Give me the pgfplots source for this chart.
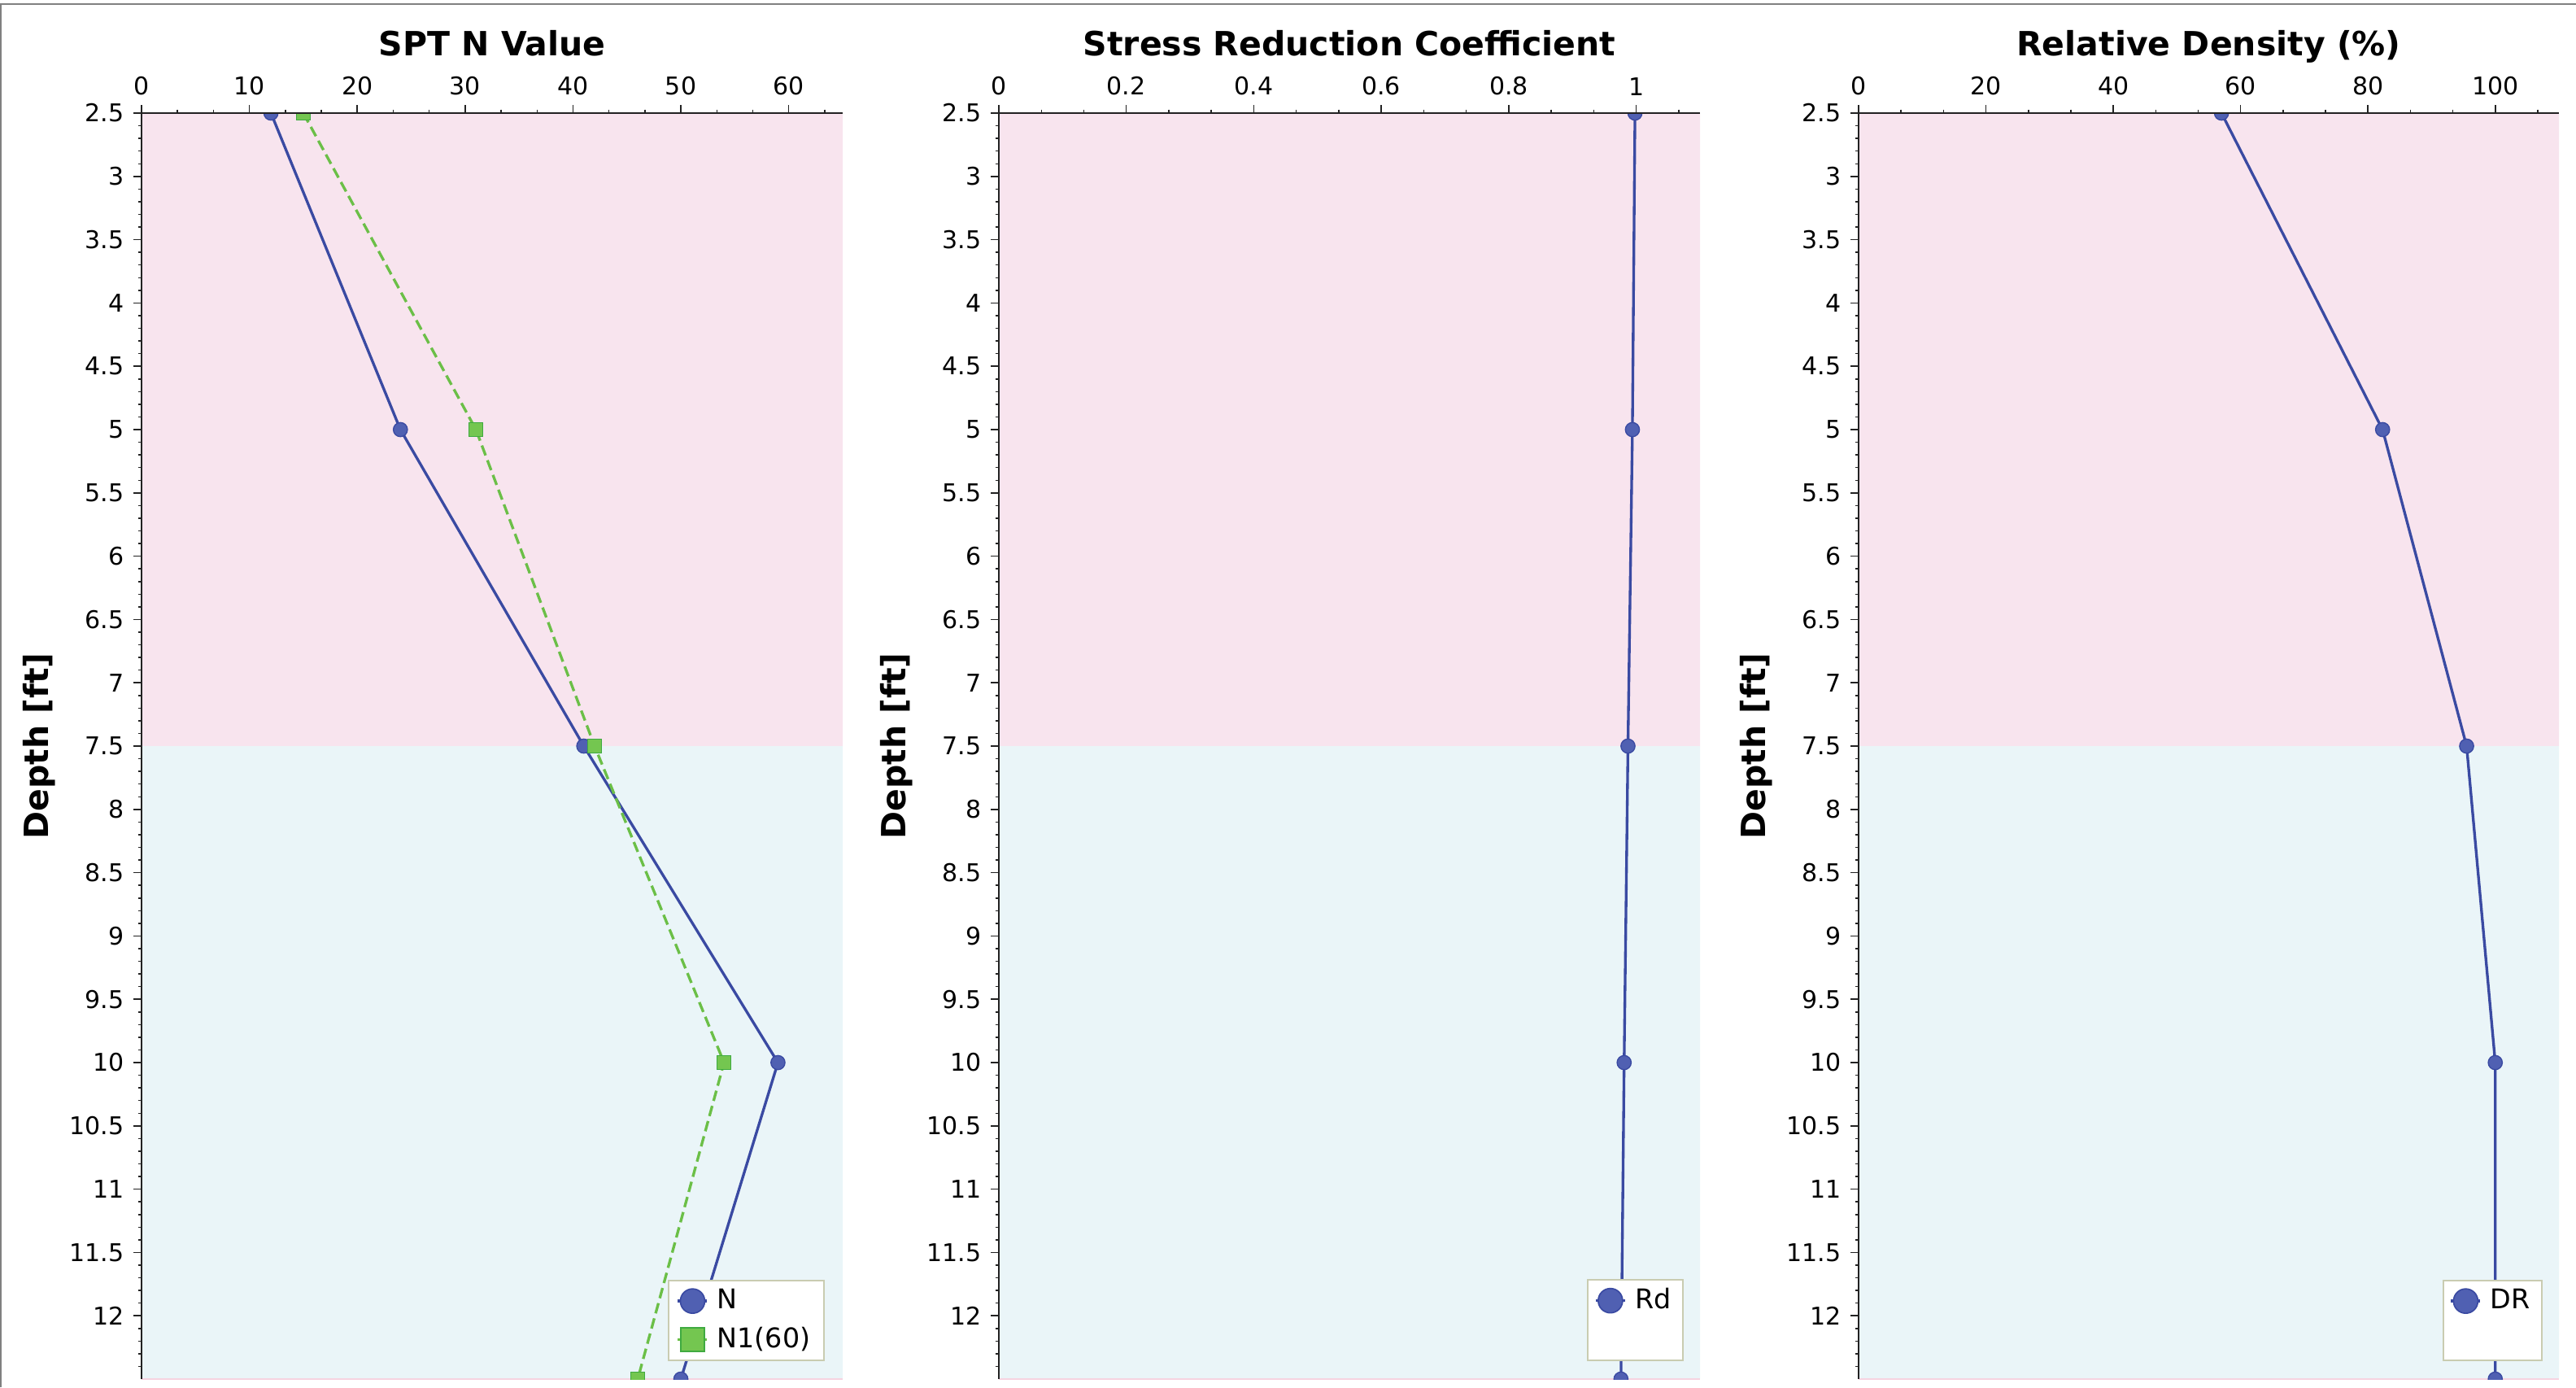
\documentclass[border=0pt]{standalone}
\usepackage{fontspec}
\setmainfont{DejaVu Sans}
\usepackage{pgfplots}
\pgfplotsset{compat=1.18}
\definecolor{bandpink}{HTML}{F8E4EE}
\definecolor{bandpinkline}{HTML}{F6D3E0}
\definecolor{bandcyan}{HTML}{EAF5F8}
\definecolor{nblue}{HTML}{3A4AA2}
\definecolor{nbluefill}{HTML}{5060B2}
\definecolor{ngreen}{HTML}{6BBF47}
\definecolor{ngreenfill}{HTML}{74C650}
\definecolor{ngreendraw}{HTML}{3FAA40}
\definecolor{legborder}{HTML}{C9CCB1}
\definecolor{axcol}{HTML}{222222}
\definecolor{framegray}{HTML}{808080}

\pgfplotsset{
  panel/.style={
    scale only axis, width=258.6pt, height=466.8pt,
    anchor=north west,
    y dir=reverse, ymin=2.5, ymax=12.5,
    ytick={2.5,3,3.5,4,4.5,5,5.5,6,6.5,7,7.5,8,8.5,9,9.5,10,10.5,11,11.5,12},
    minor ytick={2.6,2.7,2.8,2.9,3.1,3.2,3.3,3.4,3.6,3.7,3.8,3.9,4.1,4.2,4.3,4.4,4.6,4.7,4.8,4.9,
      5.1,5.2,5.3,5.4,5.6,5.7,5.8,5.9,6.1,6.2,6.3,6.4,6.6,6.7,6.8,6.9,7.1,7.2,7.3,7.4,7.6,7.7,7.8,7.9,
      8.1,8.2,8.3,8.4,8.6,8.7,8.8,8.9,9.1,9.2,9.3,9.4,9.6,9.7,9.8,9.9,10.1,10.2,10.3,10.4,10.6,10.7,10.8,10.9,
      11.1,11.2,11.3,11.4,11.6,11.7,11.8,11.9,12.1,12.2,12.3,12.4},
    axis x line=top, axis y line=left,
    x axis line style={-, line width=0.6pt, color=axcol},
    y axis line style={-, line width=0.6pt, color=axcol},
    tick align=outside,
    major tick length=3pt, minor tick length=1.3pt,
    every tick/.style={color=axcol, line width=0.45pt},
    /pgf/number format/assume math mode=true,
    tick label style={font=\fontsize{9}{10}\selectfont, color=black},
    title style={at={(axis description cs:0.5,1.0327)}, anchor=base,
      font=\fontsize{12.3}{14}\selectfont\bfseries},
    ylabel={Depth [ft]},
    ylabel style={at={(axis description cs:-0.1456,0.5)}, anchor=center,
      font=\fontsize{12.3}{14}\selectfont\bfseries},
    axis on top=true,
    clip marker paths=true,
    legend style={at={(axis description cs:0.9745,0.0141)}, anchor=south east,
      draw=legborder, line width=0.6pt, fill=white,
      font=\fontsize{10}{11}\selectfont, inner xsep=3pt, inner ysep=0.6pt,
      row sep=0pt, column sep=1.2pt,
      nodes={inner ysep=2.6pt}},
    legend cell align=left,
    legend image code/.code={
      \draw[mark repeat=2, mark phase=2, #1] plot coordinates {(0pt,0pt) (5.4pt,0pt) (10.8pt,0pt)};
    },
  },
  bluepl/.style={nblue, line width=1pt, mark=*, mark size=2.6pt,
    mark options={solid, fill=nbluefill, draw=nblue, line width=0.4pt}},
  greenpl/.style={ngreen, line width=1pt, dash pattern=on 3.9pt off 1.9pt, mark=square*, mark size=2.5pt,
    mark options={solid, fill=ngreenfill, draw=ngreendraw, line width=0.4pt}},
}

\begin{document}
\begin{tikzpicture}
\path[use as bounding box] (0,0) rectangle (950.1pt,-511.5pt);
\draw[framegray, line width=0.6pt] (0.3pt,-511.5pt) -- (0.3pt,-1.6pt) -- (950.1pt,-1.6pt);

% ---------- Panel 1: SPT N Value ----------
\begin{axis}[panel, at={(52.2pt,-41.7pt)},
  title={SPT N Value},
  xmin=0, xmax=65,
  xtick={0,10,20,30,40,50,60},
  minor xtick={3.333,6.667,13.333,16.667,23.333,26.667,33.333,36.667,43.333,46.667,53.333,56.667,63.333},
]
\addplot[draw=none, fill=bandpink, forget plot] coordinates {(0,2.5) (65,2.5) (65,7.5) (0,7.5) (0,2.5)};
\addplot[draw=none, fill=bandcyan, forget plot] coordinates {(0,7.5) (65,7.5) (65,12.5) (0,12.5) (0,7.5)};
\addplot[bandpinkline, line width=0.5pt, forget plot] coordinates {(0,12.5) (65,12.5)};
\addplot[bluepl, forget plot] coordinates {(12,2.5) (24,5) (41,7.5) (59,10) (50,12.5)};
\addplot[greenpl, forget plot] coordinates {(15,2.5) (31,5) (42,7.5) (54,10) (46,12.5)};
\addlegendimage{nblue, line width=1pt, solid, mark=*, mark size=4.5pt, mark options={fill=nbluefill, draw=nblue, line width=0.5pt}}
\addlegendentry{N}
\addlegendimage{ngreen, line width=0.9pt, solid, mark=square*, mark size=4.35pt, mark options={fill=ngreenfill, draw=ngreendraw, line width=0.5pt}}
\addlegendentry{N1(60)}
\end{axis}

% ---------- Panel 2: Stress Reduction Coefficient ----------
\begin{axis}[panel, at={(368.4pt,-41.7pt)},
  title={Stress Reduction Coefficient},
  xmin=0, xmax=1.1,
  xtick={0,0.2,0.4,0.6,0.8,1},
  xticklabels={0,0.2,0.4,0.6,0.8,1},
  minor xtick={0.0667,0.1333,0.2667,0.3333,0.4667,0.5333,0.6667,0.7333,0.8667,0.9333,1.0667},
  legend style={at={(axis description cs:0.977,0.0141)}, inner xsep=2.4pt},
]
\addplot[draw=none, fill=bandpink, forget plot] coordinates {(0,2.5) (1.1,2.5) (1.1,7.5) (0,7.5) (0,2.5)};
\addplot[draw=none, fill=bandcyan, forget plot] coordinates {(0,7.5) (1.1,7.5) (1.1,12.5) (0,12.5) (0,7.5)};
\addplot[bandpinkline, line width=0.5pt, forget plot] coordinates {(0,12.5) (1.1,12.5)};
\addplot[bluepl, forget plot] coordinates {(0.998,2.5) (0.994,5) (0.987,7.5) (0.981,10) (0.976,12.5)};
\addlegendimage{nblue, line width=1pt, solid, mark=*, mark size=4.5pt, mark options={fill=nbluefill, draw=nblue, line width=0.5pt}}
\addlegendentry{Rd}
\addlegendimage{empty legend}
\addlegendentry{\vphantom{N1(60)}}
\end{axis}

% ---------- Panel 3: Relative Density ----------
\begin{axis}[panel, at={(685.5pt,-41.7pt)}, width=258.3pt,
  title={Relative Density (\%)},
  xmin=0, xmax=110,
  xtick={0,20,40,60,80,100},
  minor xtick={6.667,13.333,26.667,33.333,46.667,53.333,66.667,73.333,86.667,93.333,106.667},
  legend style={at={(axis description cs:0.977,0.0141)}, inner xsep=2.4pt},
]
\addplot[draw=none, fill=bandpink, forget plot] coordinates {(0,2.5) (110,2.5) (110,7.5) (0,7.5) (0,2.5)};
\addplot[draw=none, fill=bandcyan, forget plot] coordinates {(0,7.5) (110,7.5) (110,12.5) (0,12.5) (0,7.5)};
\addplot[bandpinkline, line width=0.5pt, forget plot] coordinates {(0,12.5) (110,12.5)};
\addplot[bluepl, forget plot] coordinates {(57,2.5) (82.3,5) (95.5,7.5) (100,10) (100,12.5)};
\addlegendimage{nblue, line width=1pt, solid, mark=*, mark size=4.5pt, mark options={fill=nbluefill, draw=nblue, line width=0.5pt}}
\addlegendentry{DR}
\addlegendimage{empty legend}
\addlegendentry{\vphantom{N1(60)}}
\end{axis}
\end{tikzpicture}
\end{document}
